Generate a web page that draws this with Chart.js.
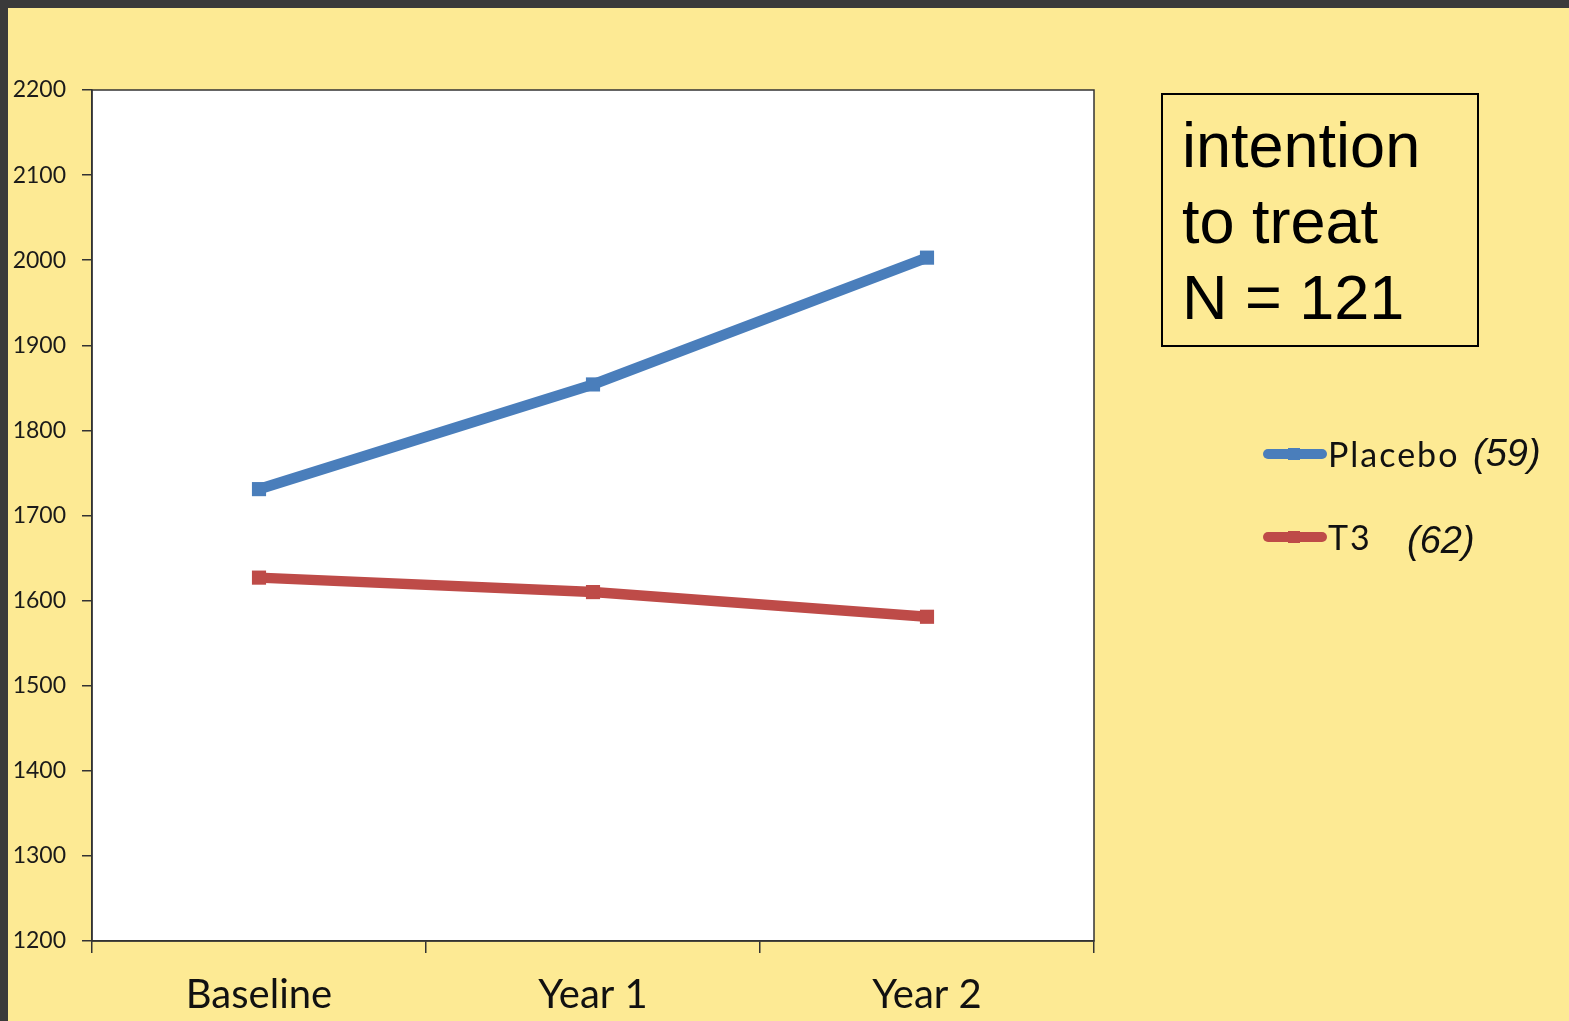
<!DOCTYPE html>
<html>
<head>
<meta charset="utf-8">
<script src="https://cdn.jsdelivr.net/npm/chart.js@4"></script>
<style>
  html, body { margin: 0; padding: 0; background: #3a3a3a; }
  #wrap { position: absolute; left: 8px; top: 8px; width: 1561px; height: 1013px; background: #fdea94; }
  canvas { display: block; }
</style>
</head>
<body>
<div id="wrap"><canvas id="chart" width="1561" height="1013"></canvas></div>
<script>
// chart values
const categories = ['Baseline', 'Year 1', 'Year 2'];
const placeboValues = [1731, 1854, 2003];
const t3Values = [1627, 1610, 1581];
const seriesLabels = ['Placebo', 'T3'];
const seriesCounts = ['(59)', '(62)'];
const boxLines = ['intention', 'to treat', 'N = 121'];
const yMin = 1200, yMax = 2200, yStep = 100;

const blue = '#4a7ebb';
const red = '#be4b48';

// white plot area with a thin frame
const plotFrame = {
  id: 'plotFrame',
  beforeDraw(chart) {
    const { ctx, chartArea: a } = chart;
    ctx.save();
    ctx.fillStyle = '#ffffff';
    ctx.fillRect(a.left, a.top, a.right - a.left, a.bottom - a.top);
    ctx.restore();
  },
  afterDatasetsDraw(chart) {
    const { ctx, chartArea: a } = chart;
    ctx.save();
    ctx.strokeStyle = '#333';
    ctx.lineWidth = 1.5;
    ctx.strokeRect(a.left, a.top, a.right - a.left, a.bottom - a.top);
    ctx.restore();
  }
};

// the "intention to treat" box and the legend on the right
const sidePanel = {
  id: 'sidePanel',
  afterDraw(chart) {
    const ctx = chart.ctx;
    ctx.save();
    ctx.strokeStyle = '#000';
    ctx.lineWidth = 2;
    ctx.strokeRect(1154, 86, 316, 252);
    ctx.fillStyle = '#000';
    ctx.font = '63px "Liberation Sans", Arial, sans-serif';
    ctx.textBaseline = 'alphabetic';
    boxLines.forEach((t, i) => ctx.fillText(t, 1174, 159 + i * 76));

    const rows = [446, 529];
    const countX = [1465, 1399];
    chart.data.datasets.forEach((ds, i) => {
      const y = rows[i];
      ctx.strokeStyle = ds.borderColor;
      ctx.lineWidth = 10;
      ctx.lineCap = 'round';
      ctx.beginPath();
      ctx.moveTo(1260, y);
      ctx.lineTo(1314, y);
      ctx.stroke();
      ctx.fillStyle = ds.borderColor;
      ctx.fillRect(1280, y - 6, 12, 12);

      ctx.fillStyle = '#111';
      ctx.textBaseline = 'middle';
      ctx.font = '34px Lato, "Open Sans", sans-serif';
      ctx.letterSpacing = '2px';
      ctx.fillText(ds.label, 1320, y + 2);
      ctx.letterSpacing = '0px';
      ctx.font = 'italic 38px "Liberation Sans", Arial, sans-serif';
      ctx.fillText(seriesCounts[i], countX[i], y + 1 + i * 4);
    });
    ctx.restore();
  }
};

new Chart(document.getElementById('chart'), {
  type: 'line',
  data: {
    labels: categories,
    datasets: [
      {
        label: seriesLabels[0],
        data: placeboValues,
        borderColor: blue,
        backgroundColor: blue,
        borderWidth: 10.5,
        pointStyle: 'rect',
        pointRadius: 10,
        pointBorderWidth: 0,
        tension: 0
      },
      {
        label: seriesLabels[1],
        data: t3Values,
        borderColor: red,
        backgroundColor: red,
        borderWidth: 10.5,
        pointStyle: 'rect',
        pointRadius: 10,
        pointBorderWidth: 0,
        tension: 0
      }
    ]
  },
  options: {
    responsive: false,
    animation: false,
    layout: { padding: { top: 82, right: 475, left: 0, bottom: 0 } },
    plugins: {
      legend: { display: false },
      tooltip: { enabled: false }
    },
    scales: {
      x: {
        offset: true,
        afterFit: s => { s.height = 80; },
        border: { color: '#333', width: 1.5 },
        grid: {
          offset: true,
          drawOnChartArea: false,
          tickLength: 12,
          color: '#333',
          lineWidth: 1.5
        },
        ticks: {
          color: '#111',
          padding: 18,
          font: { family: 'Lato, "Open Sans", sans-serif', size: 40 }
        }
      },
      y: {
        min: yMin,
        max: yMax,
        afterFit: s => { s.width = 84; },
        border: { color: '#333', width: 1.5 },
        grid: {
          drawOnChartArea: false,
          tickLength: 10,
          color: '#333',
          lineWidth: 1.5
        },
        ticks: {
          stepSize: yStep,
          color: '#1a1a1a',
          padding: 16,
          callback: v => String(v),
          font: { family: 'Lato, "Open Sans", sans-serif', size: 23 }
        }
      }
    }
  },
  plugins: [plotFrame, sidePanel]
});
</script>
</body>
</html>
